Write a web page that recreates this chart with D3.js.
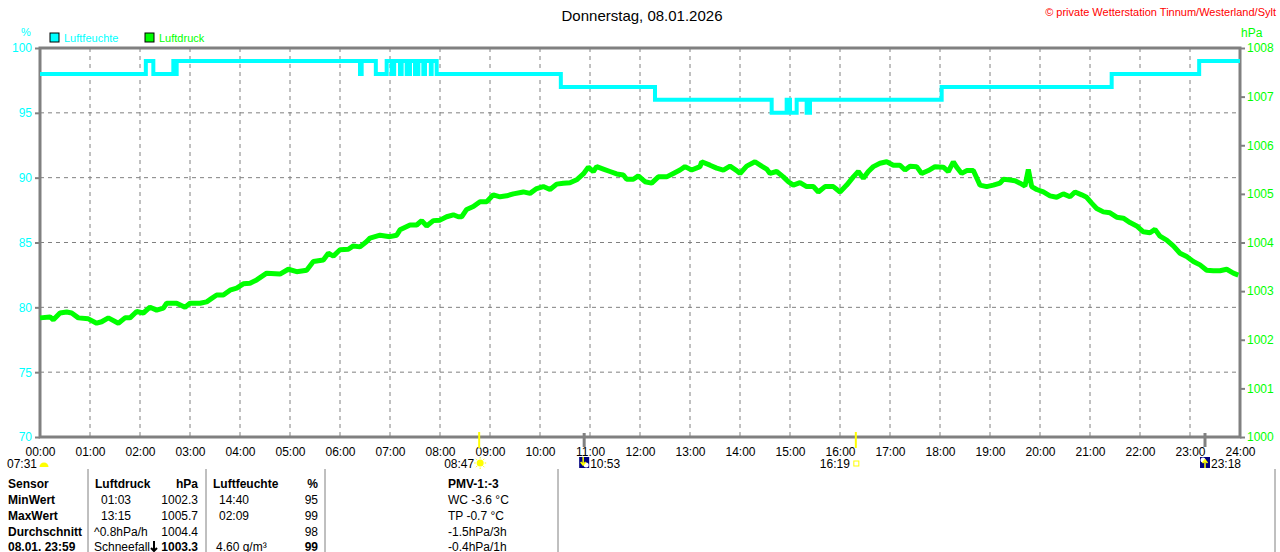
<!DOCTYPE html>
<html>
<head>
<meta charset="utf-8">
<script src="https://cdn.jsdelivr.net/npm/d3@7/dist/d3.min.js"></script>
<style>
  body { margin: 0; background: #fff; }
  text { font-family: "Liberation Sans", Arial, sans-serif; }
</style>
</head>
<body>
<div id="chart"></div>
<script>
// humidity (%) : [minute of day, value] at every change
const humidity = [
  [0, 98], [127, 99], [136, 98], [160, 99], [163, 98], [164, 99],
  [384, 98], [386, 99], [403, 98], [416, 99], [422, 98], [425, 99], [432, 98], [434, 99],
  [440, 98], [444, 99], [450, 98], [454, 99], [460, 98], [462, 99], [469, 98], [470, 99],
  [476, 98], [625, 97], [738, 96], [878, 95], [896, 96], [900, 95], [908, 96], [920, 95],
  [924, 96], [1082, 97], [1286, 98], [1391, 99], [1440, 99]
];

// pressure (hPa) : [minute of day, value]
const pressure = [
  [0, 1002.45], [12, 1002.47], [16, 1002.41], [24, 1002.55], [32, 1002.57], [38, 1002.55],
  [46, 1002.45], [58, 1002.43], [68, 1002.34], [74, 1002.37], [82, 1002.45], [94, 1002.34],
  [102, 1002.45], [108, 1002.45], [116, 1002.58], [124, 1002.55], [132, 1002.67], [140, 1002.61],
  [148, 1002.65], [152, 1002.75], [164, 1002.75], [174, 1002.67], [180, 1002.75], [192, 1002.75],
  [200, 1002.78], [206, 1002.85], [212, 1002.92], [220, 1002.92], [228, 1003.02], [236, 1003.06],
  [244, 1003.15], [252, 1003.16], [260, 1003.23], [272, 1003.37], [288, 1003.35], [298, 1003.45],
  [308, 1003.40], [320, 1003.43], [328, 1003.61], [340, 1003.64], [346, 1003.78], [352, 1003.72],
  [360, 1003.85], [370, 1003.86], [376, 1003.93], [384, 1003.91], [392, 1004.02], [396, 1004.09],
  [408, 1004.15], [420, 1004.12], [428, 1004.15], [432, 1004.26], [444, 1004.36], [452, 1004.36],
  [458, 1004.45], [464, 1004.34], [472, 1004.45], [480, 1004.46], [488, 1004.53], [496, 1004.57],
  [502, 1004.53], [506, 1004.53], [512, 1004.68], [520, 1004.74], [528, 1004.84], [536, 1004.84],
  [544, 1004.98], [552, 1004.94], [560, 1004.96], [568, 1005.00], [580, 1005.04], [588, 1005.01],
  [596, 1005.11], [604, 1005.15], [612, 1005.09], [620, 1005.20], [628, 1005.22], [636, 1005.23],
  [644, 1005.29], [652, 1005.41], [658, 1005.55], [664, 1005.46], [668, 1005.56], [676, 1005.51],
  [684, 1005.46], [692, 1005.41], [700, 1005.39], [704, 1005.30], [712, 1005.30], [718, 1005.37],
  [726, 1005.25], [734, 1005.22], [742, 1005.35], [752, 1005.35], [760, 1005.42], [768, 1005.49],
  [774, 1005.56], [782, 1005.49], [792, 1005.56], [794, 1005.66], [804, 1005.59], [812, 1005.53],
  [820, 1005.49], [828, 1005.57], [836, 1005.48], [840, 1005.42], [848, 1005.57], [858, 1005.66],
  [866, 1005.57], [872, 1005.51], [876, 1005.42], [884, 1005.46], [892, 1005.35], [898, 1005.25],
  [904, 1005.18], [912, 1005.23], [920, 1005.15], [928, 1005.15], [934, 1005.04], [942, 1005.15],
  [952, 1005.15], [960, 1005.04], [968, 1005.18], [976, 1005.35], [982, 1005.46], [988, 1005.32],
  [994, 1005.46], [1000, 1005.56], [1008, 1005.63], [1016, 1005.66], [1024, 1005.59], [1032, 1005.59],
  [1038, 1005.49], [1044, 1005.57], [1052, 1005.56], [1058, 1005.42], [1066, 1005.48], [1074, 1005.56],
  [1084, 1005.55], [1090, 1005.46], [1096, 1005.66], [1100, 1005.55], [1106, 1005.42], [1112, 1005.48],
  [1120, 1005.48], [1128, 1005.18], [1136, 1005.15], [1144, 1005.18], [1152, 1005.22], [1156, 1005.30],
  [1162, 1005.29], [1170, 1005.27], [1176, 1005.22], [1182, 1005.16], [1186, 1005.50], [1190, 1005.15],
  [1196, 1005.09], [1204, 1005.04], [1212, 1004.96], [1220, 1004.93], [1228, 1005.00], [1236, 1004.94],
  [1242, 1005.04], [1250, 1004.98], [1256, 1004.93], [1262, 1004.81], [1268, 1004.70], [1276, 1004.63],
  [1284, 1004.61], [1292, 1004.52], [1300, 1004.50], [1308, 1004.41], [1316, 1004.34], [1324, 1004.22],
  [1332, 1004.20], [1338, 1004.27], [1344, 1004.13], [1352, 1004.05], [1360, 1003.93], [1368, 1003.78],
  [1376, 1003.71], [1384, 1003.61], [1392, 1003.54], [1400, 1003.43], [1408, 1003.42], [1416, 1003.42],
  [1424, 1003.45], [1432, 1003.37], [1438, 1003.33]
];

const humTicks = [70, 75, 80, 85, 90, 95, 100];
const presTicks = [1000, 1001, 1002, 1003, 1004, 1005, 1006, 1007, 1008];
const hourTicks = d3.range(0, 1441, 60);

// sun / moon events below the axis
const astroEvents = [
  { label: "07:31", time: 451, kind: "dawn" },
  { label: "08:47", time: 527, kind: "sunrise" },
  { label: "10:53", time: 653, kind: "moonset" },
  { label: "16:19", time: 979, kind: "sunset" },
  { label: "23:18", time: 1398, kind: "moonrise" }
];

// summary table
const tableRows = [
  ["Sensor", "Luftdruck", "hPa", "Luftfeuchte", "%", "PMV-1:-3"],
  ["MinWert", "01:03", "1002.3", "14:40", "95", "WC -3.6 °C"],
  ["MaxWert", "13:15", "1005.7", "02:09", "99", "TP -0.7 °C"],
  ["Durchschnitt", "^0.8hPa/h", "1004.4", "", "98", "-1.5hPa/3h"],
  ["08.01.  23:59", "Schneefall", "1003.3", "4.60 g/m³", "99", "-0.4hPa/1h"]
];

const width = 1280, height = 552;
const margin = { top: 48, right: 40, bottom: 115, left: 40 };
const cyan = "#00ffff", green = "#00ff00", gray = "#808080";

const svg = d3.select("#chart").append("svg")
  .attr("width", width).attr("height", height);

svg.append("rect").attr("width", width).attr("height", height).attr("fill", "#fff");

const x = d3.scaleLinear().domain([0, 1440]).range([margin.left, width - margin.right]);
const yHum = d3.scaleLinear().domain([70, 100]).range([height - margin.bottom, margin.top]);
const yPres = d3.scaleLinear().domain([1000, 1008]).range([height - margin.bottom, margin.top]);

// grid
svg.append("g")
  .selectAll("line.vgrid")
  .data(hourTicks.slice(1, -1))
  .enter().append("line")
  .attr("x1", d => x(d)).attr("x2", d => x(d))
  .attr("y1", margin.top).attr("y2", height - margin.bottom)
  .attr("stroke", gray).attr("stroke-dasharray", "4,4");

svg.append("g")
  .selectAll("line.hgrid")
  .data(humTicks.slice(1, -1))
  .enter().append("line")
  .attr("x1", margin.left).attr("x2", width - margin.right)
  .attr("y1", d => yHum(d)).attr("y2", d => yHum(d))
  .attr("stroke", gray).attr("stroke-dasharray", "4,4");

// axes
const leftAxis = svg.append("g")
  .attr("transform", `translate(${margin.left},0)`)
  .call(d3.axisLeft(yHum).tickValues(humTicks).tickSize(5).tickPadding(3));
leftAxis.select(".domain").remove();
leftAxis.selectAll("line").attr("stroke", gray).attr("stroke-width", 2);
leftAxis.selectAll("text").attr("fill", cyan).style("font-size", "12px");

const rightAxis = svg.append("g")
  .attr("transform", `translate(${width - margin.right},0)`)
  .call(d3.axisRight(yPres).tickValues(presTicks).tickSize(5).tickPadding(2).tickFormat(d3.format("d")));
rightAxis.select(".domain").remove();
rightAxis.selectAll("line").attr("stroke", gray).attr("stroke-width", 2);
rightAxis.selectAll("text").attr("fill", green).style("font-size", "12px");

const bottomAxis = svg.append("g")
  .attr("transform", `translate(0,${height - margin.bottom})`)
  .call(d3.axisBottom(x).tickValues(hourTicks).tickSize(0).tickPadding(10)
    .tickFormat(d => String(d / 60).padStart(2, "0") + ":00"));
bottomAxis.select(".domain").remove();
bottomAxis.selectAll("text").attr("fill", "#000").style("font-size", "12px");

// frame
svg.append("rect")
  .attr("x", margin.left).attr("y", margin.top)
  .attr("width", width - margin.left - margin.right)
  .attr("height", height - margin.top - margin.bottom)
  .attr("fill", "none").attr("stroke", gray).attr("stroke-width", 3);

// lines
svg.append("path")
  .datum(humidity)
  .attr("fill", "none").attr("stroke", cyan).attr("stroke-width", 4)
  .attr("d", d3.line().x(d => x(d[0])).y(d => yHum(d[1])).curve(d3.curveStepAfter));

svg.append("path")
  .datum(pressure)
  .attr("fill", "none").attr("stroke", green).attr("stroke-width", 5)
  .attr("stroke-linejoin", "bevel")
  .attr("d", d3.line().x(d => x(d[0])).y(d => yPres(d[1])));

// unit labels and legend
svg.append("text").attr("x", 26).attr("y", 36).attr("text-anchor", "middle")
  .attr("fill", cyan).style("font-size", "11px").text("%");
svg.append("text").attr("x", 1241).attr("y", 37)
  .attr("fill", green).style("font-size", "12px").text("hPa");

const legend = [["Luftfeuchte", cyan, 50], ["Luftdruck", green, 145]];
legend.forEach(([name, col, lx]) => {
  svg.append("rect").attr("x", lx).attr("y", 33).attr("width", 9).attr("height", 9)
    .attr("fill", col).attr("stroke", "#000").attr("stroke-width", 1);
  svg.append("text").attr("x", lx + 14).attr("y", 42)
    .attr("fill", col).style("font-size", "11px").text(name);
});

// title + copyright
svg.append("text").attr("x", 642).attr("y", 21).attr("text-anchor", "middle")
  .style("font-size", "15px").attr("fill", "#000").text("Donnerstag, 08.01.2026");
svg.append("text").attr("x", 1276).attr("y", 16).attr("text-anchor", "end")
  .style("font-size", "11px").attr("fill", "#ff0000").text("© private Wetterstation Tinnum/Westerland/Sylt");

// astro markers
const axisY = height - margin.bottom;
const labY = 468;
astroEvents.forEach(ev => {
  const ex = x(ev.time);
  const g = svg.append("g");
  if (ev.kind === "sunrise" || ev.kind === "sunset") {
    g.append("line").attr("x1", ex).attr("x2", ex).attr("y1", axisY - 5).attr("y2", axisY + 11)
      .attr("stroke", "#ffff00").attr("stroke-width", 2);
  }
  if (ev.kind === "moonset" || ev.kind === "moonrise") {
    g.append("line").attr("x1", ex).attr("x2", ex).attr("y1", axisY - 4).attr("y2", axisY + 10)
      .attr("stroke", gray).attr("stroke-width", 3);
  }
  if (ev.kind === "dawn") {
    g.append("text").attr("x", 37).attr("y", labY).attr("text-anchor", "end")
      .style("font-size", "12px").text(ev.label);
    g.append("path").attr("d", d3.arc()({ innerRadius: 0, outerRadius: 4.5, startAngle: -Math.PI / 2, endAngle: Math.PI / 2 }))
      .attr("transform", "translate(44,467)").attr("fill", "#ffff00");
  } else if (ev.kind === "sunrise") {
    g.append("text").attr("x", ex - 5).attr("y", labY).attr("text-anchor", "end")
      .style("font-size", "12px").text(ev.label);
    g.append("circle").attr("cx", ex + 1).attr("cy", 463).attr("r", 3.5).attr("fill", "#ffff00");
    d3.range(0, 8).forEach(i => {
      const a = i * Math.PI / 4;
      g.append("line").attr("x1", ex + 1 + Math.cos(a) * 4.5).attr("y1", 463 + Math.sin(a) * 4.5)
        .attr("x2", ex + 1 + Math.cos(a) * 6).attr("y2", 463 + Math.sin(a) * 6)
        .attr("stroke", "#ffff00").attr("stroke-width", 1);
    });
  } else if (ev.kind === "sunset") {
    g.append("text").attr("x", ex - 6).attr("y", labY).attr("text-anchor", "end")
      .style("font-size", "12px").text(ev.label);
    g.append("rect").attr("x", ex - 2).attr("y", 461).attr("width", 5).attr("height", 5)
      .attr("fill", "#fff").attr("stroke", "#ffff00").attr("stroke-width", 1);
  } else {
    g.append("rect").attr("x", ex - 5).attr("y", 457).attr("width", 10).attr("height", 11)
      .attr("fill", "#000080");
    g.append("circle").attr("cx", ex + (ev.kind === "moonset" ? 2 : -2)).attr("cy", ev.kind === "moonset" ? 465 : 460)
      .attr("r", 2.5).attr("fill", "#fff");
    const up = ev.kind === "moonrise";
    g.append("path")
      .attr("d", up
        ? `M${ex},468 L${ex},461 M${ex - 2.5},463 L${ex},460 L${ex + 2.5},463`
        : `M${ex - 1},457 L${ex - 1},465 M${ex - 3.5},462 L${ex - 1},465 L${ex + 1.5},462`)
      .attr("stroke", "#ffff00").attr("stroke-width", 1.5).attr("fill", "none");
    g.append("text").attr("x", ex + 6).attr("y", labY)
      .style("font-size", "12px").text(ev.label);
  }
});

// table
const rowY = [488, 504, 520, 536, 551];
const sepX = [88, 206, 325, 558, 1275];
sepX.forEach(sx => {
  svg.append("line").attr("x1", sx).attr("x2", sx).attr("y1", 469).attr("y2", height)
    .attr("stroke", gray).attr("stroke-width", 1);
});

tableRows.forEach((row, i) => {
  const y = rowY[i];
  const head = i === 0;
  const last = i === tableRows.length - 1;
  const cell = (txt, cx, anchor, bold) => svg.append("text")
    .attr("x", cx).attr("y", y).attr("text-anchor", anchor)
    .style("font-size", "12px").style("font-weight", bold ? "bold" : "normal")
    .attr("fill", "#000").text(txt);
  cell(row[0], 8, "start", true);
  cell(row[1], head ? 95 : (i === 1 || i === 2 ? 101 : 94), "start", head);
  cell(row[2], 198, "end", head || last);
  cell(row[3], head ? 213 : (last ? 216 : 219), "start", head);
  cell(row[4], 318, "end", head || last);
  cell(row[5], 448, "start", head);
  if (last) {
    svg.append("path").attr("d", "M154,541 L154,551 M151,548 L154,551 L157,548")
      .attr("stroke", "#000").attr("stroke-width", 2).attr("fill", "none");
  }
});
</script>
</body>
</html>
